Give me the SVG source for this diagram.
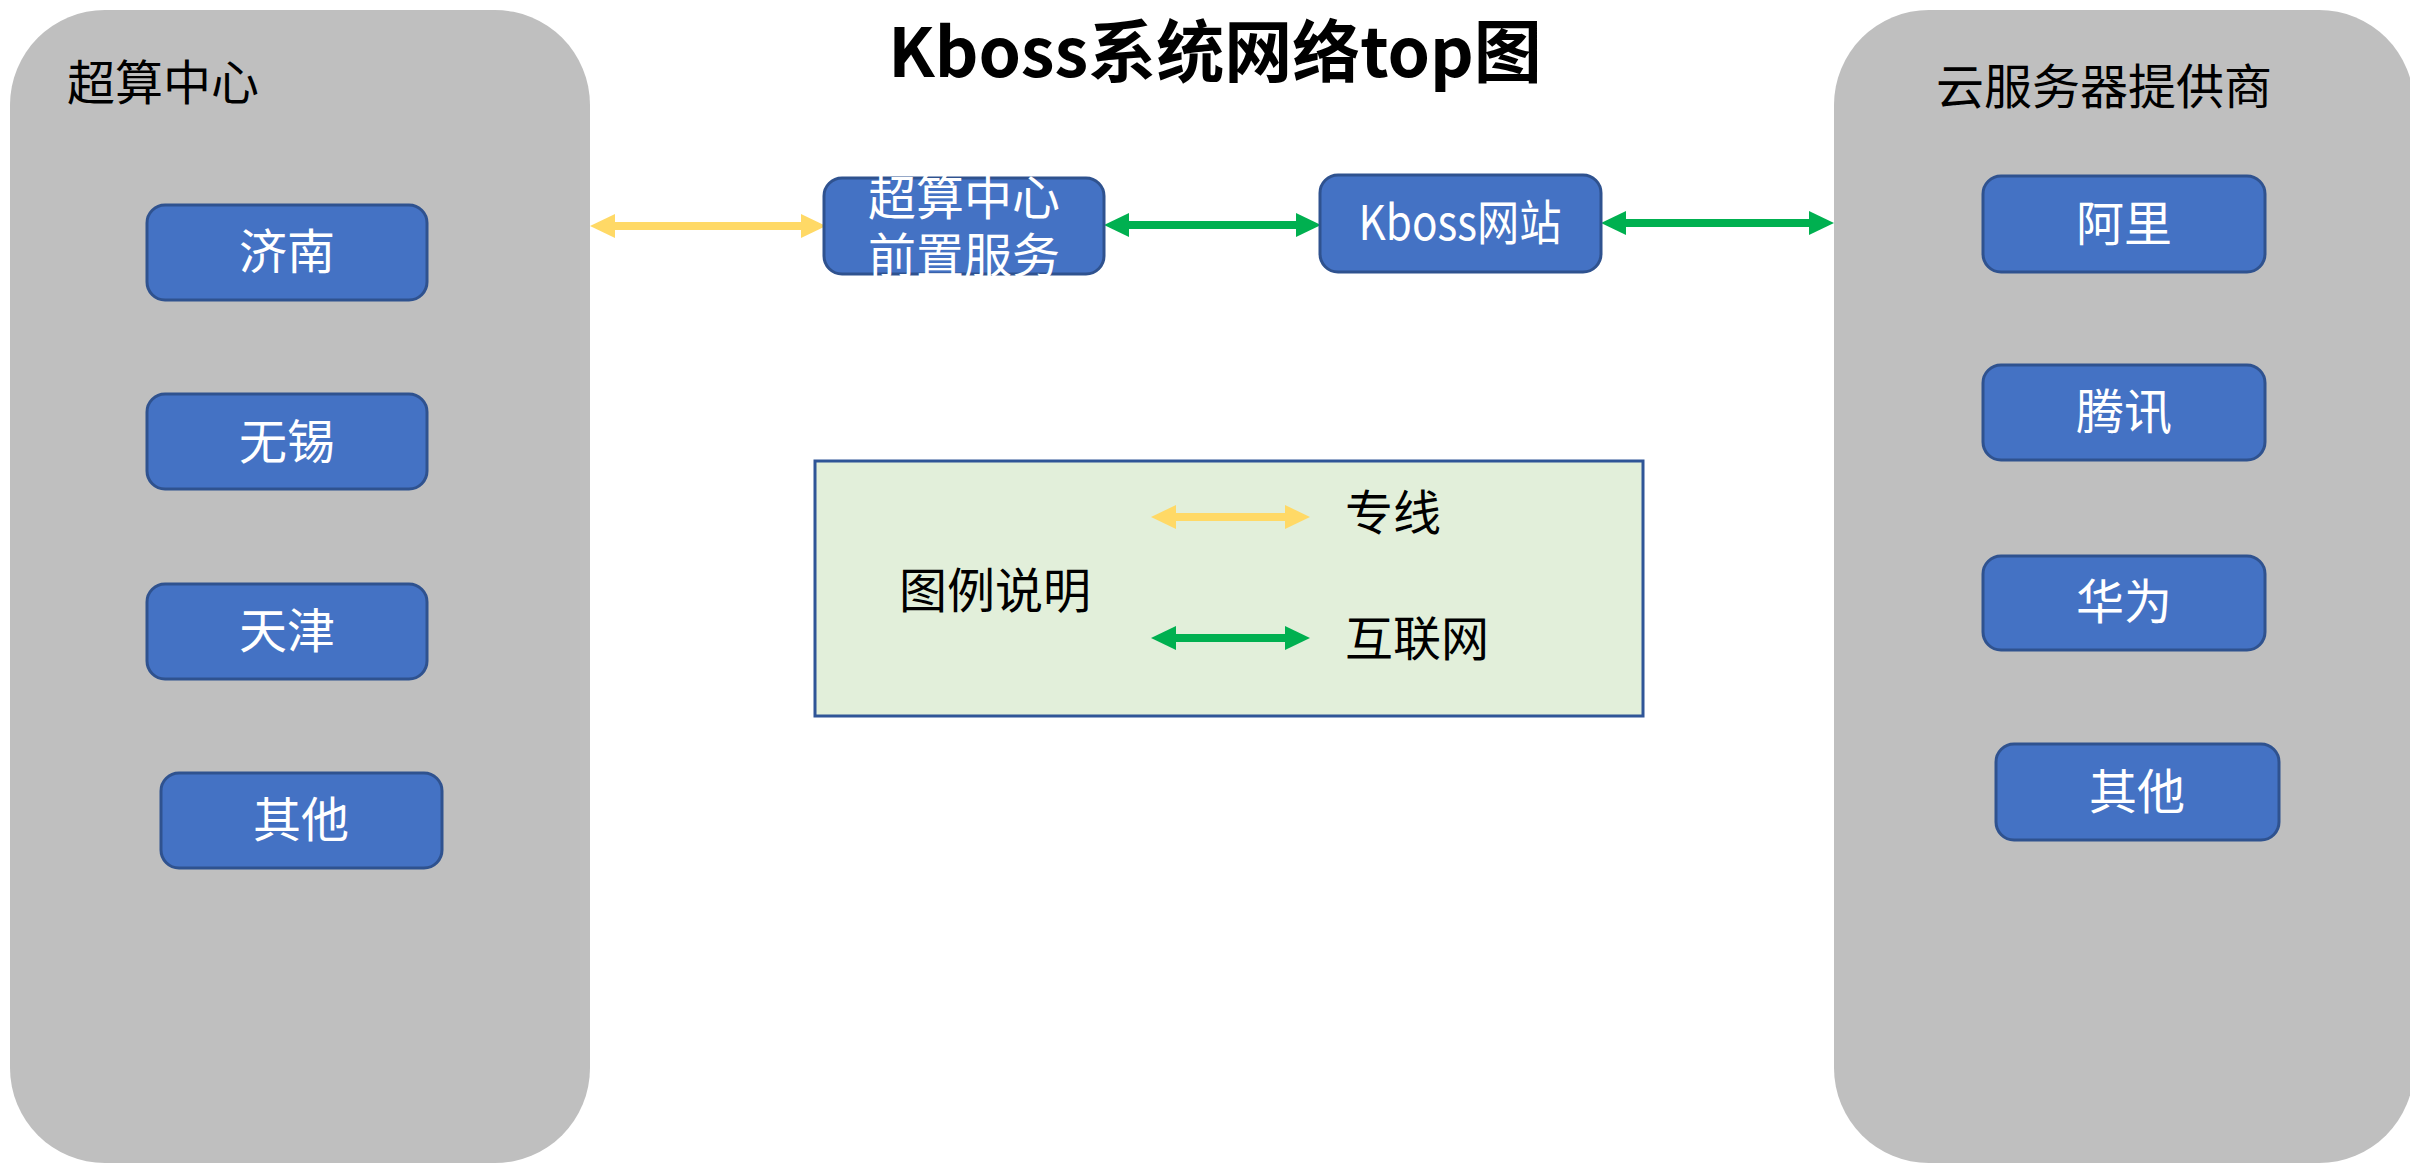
<svg xmlns="http://www.w3.org/2000/svg" width="2410" height="1165" viewBox="0 0 2410 1165">
<style>
  text { font-family: "Noto Sans CJK SC", "Noto Sans", sans-serif; }
  .panel { fill: #BFBFBF; }
  .box { fill: #4472C4; stroke: #2F528F; stroke-width: 3; }
  .lbl { fill: #FFFFFF; font-size: 48px; text-anchor: middle; }
  .sec { fill: #000000; font-size: 48px; }
  .title { fill: #000000; font-size: 68px; font-weight: bold; text-anchor: middle; }
  .legend { fill: #E2EFDA; stroke: #2F5597; stroke-width: 3; }
  .ltxt { fill: #000000; font-size: 48px; }
  .yl { stroke: #FFD966; stroke-width: 8; fill: none; marker-start: url(#hy); marker-end: url(#hy); }
  .gl { stroke: #00B050; stroke-width: 8; fill: none; marker-start: url(#hg); marker-end: url(#hg); }
</style>
<defs>
  <marker id="hy" markerUnits="userSpaceOnUse" markerWidth="26" markerHeight="24" refX="5" refY="12" orient="auto-start-reverse" viewBox="0 0 26 24">
    <path d="M0,0 L25,12 L0,24 z" fill="#FFD966"/>
  </marker>
  <marker id="hg" markerUnits="userSpaceOnUse" markerWidth="26" markerHeight="24" refX="5" refY="12" orient="auto-start-reverse" viewBox="0 0 26 24">
    <path d="M0,0 L25,12 L0,24 z" fill="#00B050"/>
  </marker>
</defs>
<rect width="2410" height="1165" fill="#FFFFFF"/>

<g id="title">
  <text class="title" x="1215" y="77">Kboss系统网络top图</text>
</g>

<g id="panel-supercomputing">
  <rect class="panel" x="10" y="10" width="580" height="1153" rx="95" ry="95"/>
  <text class="sec" x="67" y="100">超算中心</text>
</g>

<g id="panel-cloud">
  <rect class="panel" x="1834" y="10" width="580" height="1153" rx="95" ry="95"/>
  <text class="sec" x="1936" y="104">云服务器提供商</text>
</g>

<g id="connectors">
  <line class="yl" x1="610" y1="226" x2="806" y2="226"/>
  <line class="gl" x1="1124" y1="225" x2="1301" y2="225"/>
  <line class="gl" x1="1621" y1="223" x2="1814" y2="223"/>
</g>

<g id="node-jinan">
  <rect class="box" x="147" y="205" width="280" height="95" rx="18"/>
  <text class="lbl" x="287" y="269">济南</text>
</g>
<g id="node-wuxi">
  <rect class="box" x="147" y="394" width="280" height="95" rx="18"/>
  <text class="lbl" x="287" y="459">无锡</text>
</g>
<g id="node-tianjin">
  <rect class="box" x="147" y="584" width="280" height="95" rx="18"/>
  <text class="lbl" x="287" y="648">天津</text>
</g>
<g id="node-other-left">
  <rect class="box" x="161" y="773" width="281" height="95" rx="18"/>
  <text class="lbl" x="301" y="837">其他</text>
</g>

<g id="node-ali">
  <rect class="box" x="1983" y="176" width="282" height="96" rx="18"/>
  <text class="lbl" x="2124" y="241">阿里</text>
</g>
<g id="node-tencent">
  <rect class="box" x="1983" y="365" width="282" height="95" rx="18"/>
  <text class="lbl" x="2124" y="429">腾讯</text>
</g>
<g id="node-huawei">
  <rect class="box" x="1983" y="556" width="282" height="94" rx="18"/>
  <text class="lbl" x="2124" y="619">华为</text>
</g>
<g id="node-other-right">
  <rect class="box" x="1996" y="744" width="283" height="96" rx="18"/>
  <text class="lbl" x="2137" y="809">其他</text>
</g>

<g id="node-frontend">
  <rect class="box" x="824" y="178" width="280" height="96" rx="18"/>
  <text class="lbl" x="964" y="215">超算中心</text>
  <text class="lbl" x="964" y="273">前置服务</text>
</g>

<g id="node-kboss">
  <rect class="box" x="1320" y="175" width="281" height="97" rx="18"/>
  <text class="lbl" x="1460" y="240" textLength="203" lengthAdjust="spacingAndGlyphs">Kboss网站</text>
</g>

<g id="legend">
  <rect class="legend" x="815" y="461" width="828" height="255"/>
  <text class="ltxt" x="899" y="608">图例说明</text>
  <line class="yl" x1="1171" y1="517" x2="1290" y2="517"/>
  <text class="ltxt" x="1345" y="530">专线</text>
  <line class="gl" x1="1171" y1="638" x2="1290" y2="638"/>
  <text class="ltxt" x="1345" y="656">互联网</text>
</g>
</svg>
